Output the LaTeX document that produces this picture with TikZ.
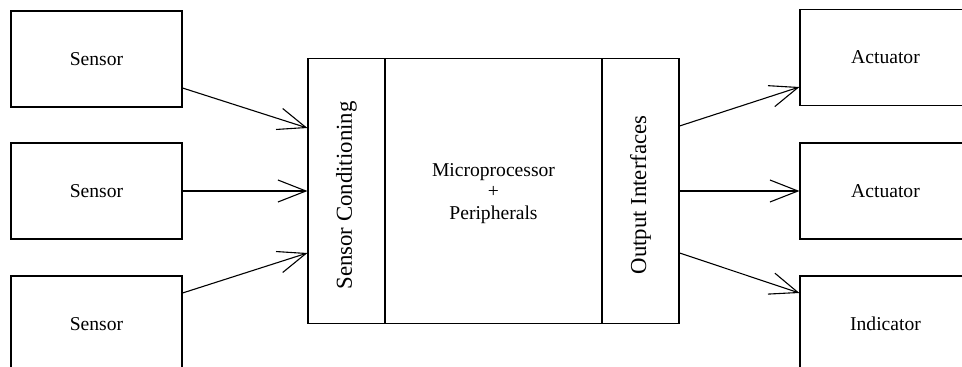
\documentclass[tikz,border=0pt]{standalone}
\usepackage{fontspec}
\setmainfont{Liberation Serif}
\usetikzlibrary{arrows.meta}
\begin{document}
\begin{tikzpicture}[x=1pt, y=-1pt, line width=1.1pt,
  box/.style={draw, rectangle, inner sep=0pt, minimum width=171pt,
    minimum height=96pt, font=\fontsize{19.6}{22}\selectfont},
  part/.style={draw, rectangle, inner sep=0pt, minimum height=265pt},
  vlabel/.style={rotate=90, inner sep=0pt, font=\fontsize{22.8}{26}\selectfont},
  arr/.style={-{Straight Barb[length=28pt, width=22pt]}}]
\useasboundingbox (0,0) rectangle (962,367);
\clip (0,0) rectangle (962,367);

% inputs
\node[box] (s1) at (96.5,59) {Sensor};
\node[box] (s2) at (96.5,191) {Sensor};
\node[box] (s3) at (96.5,324) {Sensor};

% outputs
\node[box] (a1) at (885.5,57.5) {Actuator};
\node[box] (a2) at (885.5,191) {Actuator};
\node[box] (ind) at (885.5,324) {Indicator};

% controller with its three compartments
\node[part, minimum width=77pt] (sc) at (346.5,191) {};
\node[part, minimum width=217pt] (mp) at (493.5,191) {};
\node[part, minimum width=77pt] (oi) at (640.5,191) {};
\node[inner sep=0pt, align=center, font=\fontsize{19.6}{21.6}\selectfont]
  (mplabel) at ([yshift=-2.5pt]mp.center) {Microprocessor\\+\\Peripherals};
\node[vlabel] (sclabel) at ([yshift=-4.5pt]sc.center) {Sensor Conditioning};
\node[vlabel] (oilabel) at ([yshift=-4pt]oi.center) {Output Interfaces};

% signal flow
\draw[arr] ([yshift=-29pt]s1.east) -- ([yshift=63pt]sc.west);
\draw[arr] (s2.east) -- (sc.west);
\draw[arr] ([yshift=31pt]s3.east) -- ([yshift=-62pt]sc.west);
\draw[arr] ([yshift=65pt]oi.east) -- ([yshift=-29.5pt]a1.west);
\draw[arr] (oi.east) -- (a2.west);
\draw[arr] ([yshift=-62pt]oi.east) -- ([yshift=31pt]ind.west);
\end{tikzpicture}
\end{document}
